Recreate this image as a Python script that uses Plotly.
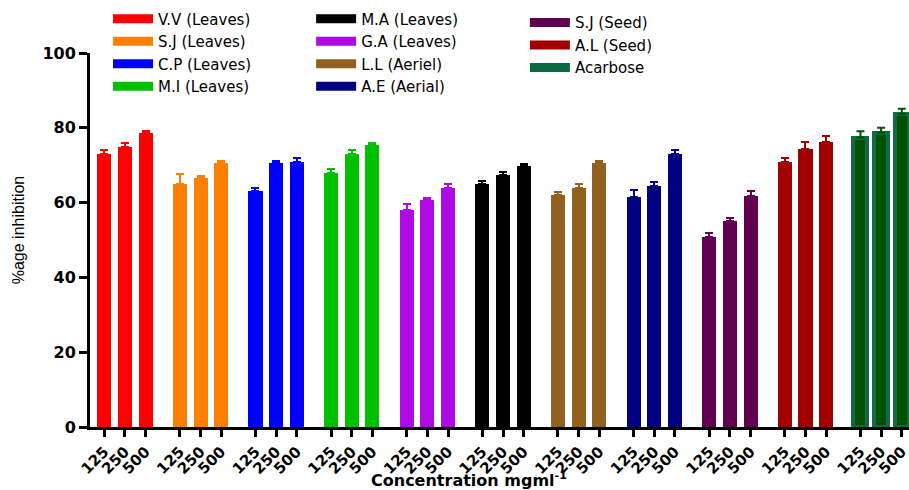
import plotly.graph_objects as go

# ---------------- data ----------------
groups = ["V.V (Leaves)", "S.J (Leaves)", "C.P (Leaves)", "M.I (Leaves)", "G.A (Leaves)",
          "M.A (Leaves)", "L.L (Aeriel)", "A.E (Aerial)", "S.J (Seed)", "A.L (Seed)", "Acarbose"]
concentrations = ["125", "250", "500"]

vv_leaves = [72.9, 74.9, 78.6]
sj_leaves = [64.9, 66.6, 70.5]
cp_leaves = [63.0, 70.5, 70.9]
mi_leaves = [67.8, 72.9, 75.3]
ga_leaves = [57.9, 60.6, 63.9]
ma_leaves = [65.1, 67.5, 69.7]
ll_aeriel = [62.1, 63.9, 70.5]
ae_aerial = [61.6, 64.5, 72.9]
sj_seed = [50.9, 55.0, 61.8]
al_seed = [70.9, 74.4, 76.1]
acarbose = [77.4, 78.7, 83.6]

vv_err = [1.2, 1.1, 0.6]
sj_err = [2.8, 0.6, 0.7]
cp_err = [0.9, 0.7, 1.1]
mi_err = [1.3, 1.2, 0.6]
ga_err = [1.7, 0.7, 1.2]
ma_err = [0.8, 0.8, 0.6]
ll_err = [0.8, 1.2, 0.7]
ae_err = [1.7, 0.9, 1.2]
sjs_err = [1.1, 1.0, 1.4]
al_err = [1.1, 1.8, 1.8]
aca_err = [1.7, 1.3, 1.5]

values = [vv_leaves, sj_leaves, cp_leaves, mi_leaves, ga_leaves, ma_leaves,
          ll_aeriel, ae_aerial, sj_seed, al_seed, acarbose]
errors = [vv_err, sj_err, cp_err, mi_err, ga_err, ma_err, ll_err, ae_err, sjs_err, al_err, aca_err]

x_title = "Concentration mgml<sup>-1</sup>"
y_title = "%age inhibition"

# ---------------- styles ----------------
colors = ["#FF0000", "#FF8000", "#0000FF", "#00C000", "#AE0AE4", "#000000",
          "#93611F", "#000080", "#61004F", "#A00000", "#005200"]
edge_colors = [None] * 10 + ["#0E6B46"]
legend_colors = colors[:10] + ["#0B6A40"]
legend_of = ["legend", "legend", "legend", "legend", "legend2", "legend2",
             "legend2", "legend2", "legend3", "legend3", "legend3"]
legend_order = [0, 1, 2, 3, 5, 4, 6, 7, 8, 9, 10]

GROUP_PITCH = 3.66
BAR_W = 0.68
FONT = "DejaVu Sans"

fig = go.Figure()

tickvals, ticktext = [], []
for g, name in enumerate(groups):
    xs = [g * GROUP_PITCH + i for i in range(len(concentrations))]
    tickvals += xs
    ticktext += concentrations
    line = dict(width=0) if edge_colors[g] is None else dict(width=4, color=edge_colors[g])
    fig.add_trace(go.Bar(
        x=xs, y=values[g], width=BAR_W, name=name, showlegend=False, legendgroup=name,
        marker=dict(color=colors[g], line=line),
        error_y=dict(type="data", symmetric=False, array=errors[g], arrayminus=[0] * 3,
                     color=colors[g], thickness=2, width=4),
    ))

# legend entries (wide rectangular swatches)
for g in legend_order:
    fig.add_trace(go.Scatter(
        x=[None], y=[None], mode="lines", name=groups[g], legendgroup=groups[g],
        line=dict(color=legend_colors[g], width=9), legend=legend_of[g], showlegend=True,
    ))

legend_common = dict(font=dict(family=FONT, size=15, color="#000000"), bgcolor="rgba(0,0,0,0)",
                     borderwidth=0, orientation="v", xanchor="left", yanchor="top",
                     tracegroupgap=0, itemwidth=40,
                     itemclick=False, itemdoubleclick=False)

fig.update_layout(
    width=909, height=490,
    margin=dict(l=90, r=0, t=53, b=63),
    paper_bgcolor="white", plot_bgcolor="white",
    bargap=0,
    legend=dict(x=0.022, y=1.135, **legend_common),
    legend2=dict(x=0.27, y=1.135, **legend_common),
    legend3=dict(x=0.531, y=1.125, **legend_common),
    xaxis=dict(
        range=[-0.69, 38.95], tickmode="array", tickvals=tickvals, ticktext=ticktext,
        tickangle=-45, tickfont=dict(family=FONT, size=15, color="#000000", weight="bold"),
        ticklabeloverflow="allow",
        showline=True, linewidth=3, linecolor="#000000", ticks="outside", ticklen=7,
        tickwidth=3, tickcolor="#000000", showgrid=False, zeroline=False,
    ),
    yaxis=dict(
        range=[0, 100], tickmode="array", tickvals=[0, 20, 40, 60, 80, 100],
        tickfont=dict(family=FONT, size=16, color="#000000", weight="bold"),
        showline=True, linewidth=3, linecolor="#000000", ticks="outside", ticklen=8,
        tickwidth=3, tickcolor="#000000", showgrid=False, zeroline=False,
    ),
    annotations=[
        dict(text=x_title, xref="paper", yref="paper", x=0.463, y=-0.141,
             xanchor="center", yanchor="middle", showarrow=False,
             font=dict(family=FONT, size=16, color="#000000", weight="bold")),
        dict(text=y_title, xref="paper", yref="paper", x=-0.087, y=0.528, textangle=-90,
             xanchor="center", yanchor="middle", showarrow=False,
             font=dict(family="Liberation Sans", size=16, color="#000000")),
    ],
)

fig.write_html("out.html")
